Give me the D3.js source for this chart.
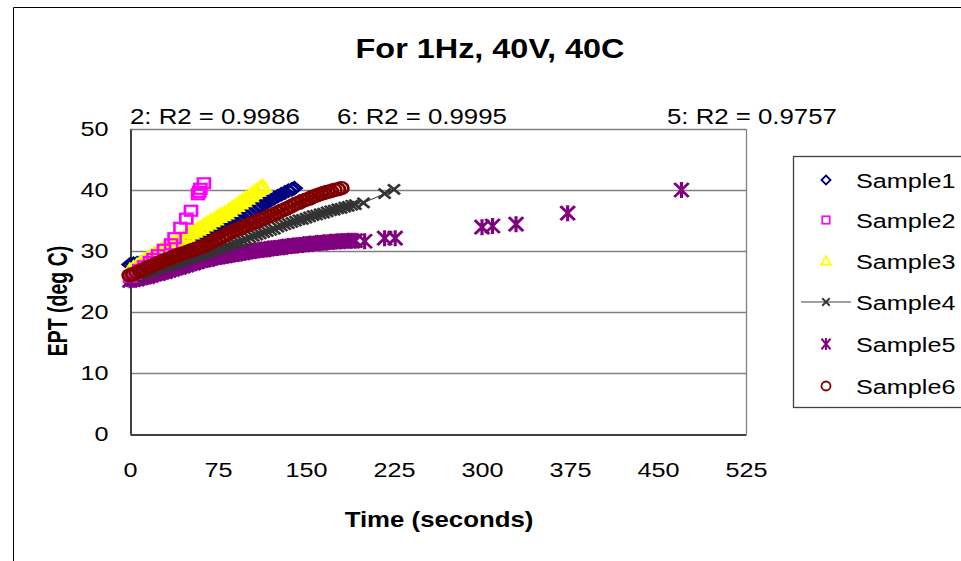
<!DOCTYPE html>
<html>
<head>
<meta charset="utf-8">
<script src="https://d3js.org/d3.v7.min.js"></script>
<style>
  body { margin: 0; background: #fff; }
  svg { font-family: "Liberation Sans", Arial, sans-serif; }
</style>
</head>
<body>
<div id="chart"></div>
<script>
// time (s) and EPT (deg C)
const s1Time = [0, 3, 6, 9, 12, 15, 18, 21, 24, 27, 30, 33, 36, 39, 42, 45, 48, 51, 54, 57, 60, 63, 66, 69, 72, 75, 78, 81, 84, 87, 90, 93, 96, 99, 102, 105, 108, 111, 114, 117, 120, 123, 126, 129, 132, 135, 138, 140];
const s1Temp = [27.8, 27.9, 28.0, 28.1, 28.3, 28.4, 28.6, 28.8, 29.0, 29.3, 29.5, 29.7, 30.0, 30.2, 30.5, 30.7, 30.9, 31.2, 31.4, 31.7, 31.9, 32.1, 32.4, 32.7, 32.9, 33.2, 33.5, 33.8, 34.2, 34.5, 34.8, 35.2, 35.5, 35.9, 36.2, 36.6, 37.0, 37.3, 37.7, 38.0, 38.3, 38.7, 39.0, 39.3, 39.6, 39.9, 40.1, 40.3];

const s2Time = [0, 4, 8, 12, 17, 20, 24, 29, 35, 38, 43, 48, 52, 58, 59, 60, 63];
const s2Temp = [25.8, 26.3, 26.9, 27.5, 28.2, 28.7, 29.3, 30.2, 31.1, 32.1, 33.8, 35.3, 36.6, 39.3, 39.7, 40.2, 41.1];

const s3Time = [0, 3, 6, 9, 12, 15, 18, 21, 24, 27, 30, 33, 36, 39, 42, 45, 48, 51, 54, 57, 60, 63, 66, 69, 72, 75, 78, 81, 84, 87, 90, 93, 96, 99, 102, 105, 108, 111, 113];
const s3Temp = [26.8, 27.2, 27.6, 28.0, 28.4, 28.8, 29.2, 29.5, 29.9, 30.2, 30.5, 30.9, 31.2, 31.5, 31.8, 32.2, 32.5, 32.9, 33.2, 33.5, 33.8, 34.2, 34.5, 34.9, 35.2, 35.6, 35.9, 36.2, 36.6, 37.0, 37.4, 37.8, 38.2, 38.6, 39.0, 39.5, 39.9, 40.3, 40.6];

const s4Time = [0, 3, 6, 9, 12, 15, 18, 21, 24, 27, 30, 33, 36, 39, 42, 45, 48, 51, 54, 57, 60, 63, 66, 69, 72, 75, 78, 81, 84, 87, 90, 93, 96, 99, 102, 105, 108, 111, 114, 117, 120, 123, 126, 129, 132, 135, 138, 141, 144, 147, 150, 153, 156, 159, 162, 165, 168, 171, 174, 177, 180, 183, 186, 189, 192, 199, 217, 225];
const s4Temp = [25.5, 25.7, 25.9, 26.1, 26.3, 26.5, 26.7, 26.9, 27.1, 27.3, 27.5, 27.7, 27.8, 28.0, 28.2, 28.4, 28.6, 28.8, 29.0, 29.2, 29.3, 29.5, 29.7, 29.9, 30.1, 30.3, 30.5, 30.7, 30.9, 31.1, 31.3, 31.5, 31.7, 31.9, 32.2, 32.4, 32.6, 32.8, 33.0, 33.2, 33.4, 33.6, 33.9, 34.1, 34.3, 34.5, 34.7, 34.9, 35.1, 35.2, 35.4, 35.6, 35.8, 35.9, 36.1, 36.2, 36.4, 36.6, 36.7, 36.9, 37.0, 37.2, 37.3, 37.5, 37.6, 37.9, 39.4, 40.1];

const s5Time = [0, 3, 6, 9, 12, 15, 18, 21, 24, 27, 30, 33, 36, 39, 42, 45, 48, 51, 54, 57, 60, 63, 66, 69, 72, 75, 78, 81, 84, 87, 90, 93, 96, 99, 102, 105, 108, 111, 114, 117, 120, 123, 126, 129, 132, 135, 138, 141, 144, 147, 150, 153, 156, 159, 162, 165, 168, 171, 174, 177, 180, 183, 186, 189, 192, 200, 217, 226, 300, 309, 329, 373, 470];
const s5Temp = [25.2, 25.3, 25.4, 25.6, 25.7, 25.8, 26.0, 26.2, 26.3, 26.5, 26.6, 26.8, 27.0, 27.2, 27.3, 27.5, 27.7, 27.9, 28.0, 28.2, 28.4, 28.5, 28.6, 28.8, 28.9, 29.0, 29.1, 29.2, 29.3, 29.4, 29.5, 29.6, 29.7, 29.8, 29.9, 30.0, 30.1, 30.2, 30.2, 30.3, 30.4, 30.5, 30.5, 30.6, 30.7, 30.8, 30.8, 30.9, 31.0, 31.0, 31.1, 31.2, 31.2, 31.3, 31.3, 31.4, 31.4, 31.5, 31.5, 31.6, 31.6, 31.6, 31.7, 31.7, 31.7, 31.6, 32.1, 32.1, 33.9, 34.1, 34.4, 36.2, 40.0];

const s6Time = [0, 3, 6, 9, 12, 15, 18, 21, 24, 27, 30, 33, 36, 39, 42, 45, 48, 51, 54, 57, 60, 63, 66, 69, 72, 75, 78, 81, 84, 87, 90, 93, 96, 99, 102, 105, 108, 111, 114, 117, 120, 123, 126, 129, 132, 135, 138, 141, 144, 147, 150, 153, 156, 159, 162, 165, 168, 171, 174, 177, 180];
const s6Temp = [26.0, 26.2, 26.5, 26.7, 27.0, 27.3, 27.5, 27.8, 28.0, 28.3, 28.5, 28.7, 29.0, 29.2, 29.4, 29.6, 29.8, 30.0, 30.2, 30.4, 30.6, 30.8, 31.1, 31.4, 31.7, 32.0, 32.3, 32.6, 32.9, 33.2, 33.4, 33.6, 33.9, 34.1, 34.4, 34.6, 34.8, 35.1, 35.3, 35.6, 35.8, 36.0, 36.3, 36.6, 36.8, 37.1, 37.4, 37.7, 37.9, 38.2, 38.4, 38.6, 38.9, 39.1, 39.3, 39.5, 39.7, 39.8, 40.0, 40.1, 40.3];

const seriesNames = ["Sample1", "Sample2", "Sample3", "Sample4", "Sample5", "Sample6"];
const xTicks = [0, 75, 150, 225, 300, 375, 450, 525];
const yTicks = [0, 10, 20, 30, 40, 50];
const r2Labels = ["2: R2 = 0.9986", "6: R2 = 0.9995", "5: R2 = 0.9757"];

const W = 961, H = 561;
const plot = { left: 130, right: 746, top: 129, bottom: 434 };
const SX = 1.2; // the picture's text is drawn a bit wide

const svg = d3.select("#chart").append("svg")
    .attr("width", W)
    .attr("height", H);

svg.append("rect").attr("width", W).attr("height", H).attr("fill", "#fff");

// outer chart frame
svg.append("path")
    .attr("d", "M13.5," + H + " V7.5 H" + W)
    .attr("fill", "none")
    .attr("stroke", "#000")
    .attr("stroke-width", 1);

// wide text helper
function wideText(parent, tx, ty, str, size, anchor, bold) {
    return parent.append("text")
        .attr("transform", "translate(" + tx + "," + ty + ") scale(" + SX + ",1)")
        .attr("text-anchor", anchor || "start")
        .attr("font-size", size)
        .attr("font-weight", bold ? "bold" : "normal")
        .text(str);
}

const x = d3.scaleLinear().domain([0, 525]).range([plot.left, plot.right]);
const y = d3.scaleLinear().domain([0, 50]).range([plot.bottom, plot.top]);

// gridlines
svg.append("g")
    .selectAll("line")
    .data(yTicks.filter(d => d > 0))
    .enter()
    .append("line")
    .attr("x1", plot.left)
    .attr("x2", plot.right)
    .attr("y1", d => Math.round(y(d)) + 0.5)
    .attr("y2", d => Math.round(y(d)) + 0.5)
    .attr("stroke", "#808080")
    .attr("stroke-width", 1.3);

svg.append("line")
    .attr("x1", plot.right + 0.5).attr("x2", plot.right + 0.5)
    .attr("y1", plot.top).attr("y2", plot.bottom)
    .attr("stroke", "#808080").attr("stroke-width", 1.3);

// axes
const xAxis = d3.axisBottom(x).tickValues(xTicks).tickSize(0).tickPadding(28);
const yAxis = d3.axisLeft(y).tickValues(yTicks).tickSize(0).tickPadding(0);

const gx = svg.append("g")
    .attr("transform", "translate(0," + (plot.bottom + 0.5) + ")")
    .call(xAxis);
const gy = svg.append("g")
    .attr("transform", "translate(" + (plot.left + 0.5) + ",0)")
    .call(yAxis);

[gx, gy].forEach(g => {
    g.select(".domain").attr("stroke", "#404040").attr("stroke-width", 2);
    g.selectAll("text")
        .attr("font-size", 21)
        .attr("font-family", "Liberation Sans, Arial, sans-serif")
        .attr("fill", "#000");
});
gx.selectAll("text").attr("dy", "0.71em").attr("transform", "scale(" + SX + ",1)");
gy.selectAll("text").attr("x", -22 / SX).attr("transform", "scale(" + SX + ",1)");

// title and axis labels
wideText(svg, 490, 58, "For 1Hz, 40V, 40C", 27, "middle", true);
wideText(svg, 439, 527, "Time (seconds)", 21.5, "middle", true);

svg.append("text")
    .attr("transform", "translate(67,301) scale(1.45,1) rotate(-90)")
    .attr("text-anchor", "middle")
    .attr("font-size", 19.5).attr("font-weight", "bold")
    .text("EPT (deg C)");

// R2 annotations
const r2X = [130, 337, 667];
r2Labels.forEach((t, i) => wideText(svg, r2X[i], 124, t, 21.5));

// marker shapes
const colors = ["#000080", "#ff00ff", "#ffff00", "#333333", "#800080", "#800000"];

function marker(g, type, color) {
    if (type === 0) {
        g.append("path").attr("d", "M0,-6 L6,0 L0,6 L-6,0 Z")
            .attr("fill", "none").attr("stroke", color).attr("stroke-width", 2.4);
    } else if (type === 1) {
        g.append("rect").attr("x", -5).attr("y", -5).attr("width", 10).attr("height", 10)
            .attr("fill", "none").attr("stroke", color).attr("stroke-width", 2.2);
    } else if (type === 2) {
        g.append("path").attr("d", "M0,-6.5 L6.5,5 L-6.5,5 Z")
            .attr("fill", "none").attr("stroke", color).attr("stroke-width", 2.4);
    } else if (type === 3) {
        g.append("path").attr("d", "M-5,-5 L5,5 M-5,5 L5,-5")
            .attr("stroke", color).attr("stroke-width", 2.4);
    } else if (type === 4) {
        g.append("path").attr("d", "M-6,-7 L6,7 M-6,7 L6,-7 M0,-8 V8")
            .attr("stroke", color).attr("stroke-width", 2.6);
    } else {
        g.append("circle").attr("r", 6)
            .attr("fill", "none").attr("stroke", color).attr("stroke-width", 2.4);
    }
}

const allTimes = [s1Time, s2Time, s3Time, s4Time, s5Time, s6Time];
const allTemps = [s1Temp, s2Temp, s3Temp, s4Temp, s5Temp, s6Temp];

// Sample4 has a connecting line
const line = d3.line().x(d => x(d[0])).y(d => y(d[1]));
svg.append("path")
    .datum(s4Time.map((t, i) => [t, s4Temp[i]]))
    .attr("d", line)
    .attr("fill", "none")
    .attr("stroke", "#333333")
    .attr("stroke-width", 1);

const drawOrder = [4, 3, 0, 2, 1, 5];
drawOrder.forEach(si => {
    const pts = allTimes[si].map((t, i) => [t, allTemps[si][i]]);
    svg.append("g")
        .selectAll("g")
        .data(pts)
        .enter()
        .append("g")
        .attr("transform", d => "translate(" + x(d[0]) + "," + y(d[1]) + ") scale(" + SX + ",1)")
        .each(function() { marker(d3.select(this), si, colors[si]); });
});

// legend
const legend = svg.append("g");
legend.append("rect")
    .attr("x", 793.5).attr("y", 156.5)
    .attr("width", 180).attr("height", 251)
    .attr("fill", "#fff").attr("stroke", "#404040").attr("stroke-width", 1.3);

const legY = [180, 220, 261, 302, 344, 386];
seriesNames.forEach((name, i) => {
    if (i === 3) {
        legend.append("line").attr("x1", 801).attr("x2", 851).attr("y1", legY[i]).attr("y2", legY[i])
            .attr("stroke", "#808080").attr("stroke-width", 1.3);
    }
    const g = legend.append("g").attr("transform", "translate(826," + legY[i] + ") scale(0.75,0.75)");
    marker(g, i, colors[i]);
    wideText(legend, 856, legY[i] + 8, name, 21);
});
</script>
</body>
</html>
